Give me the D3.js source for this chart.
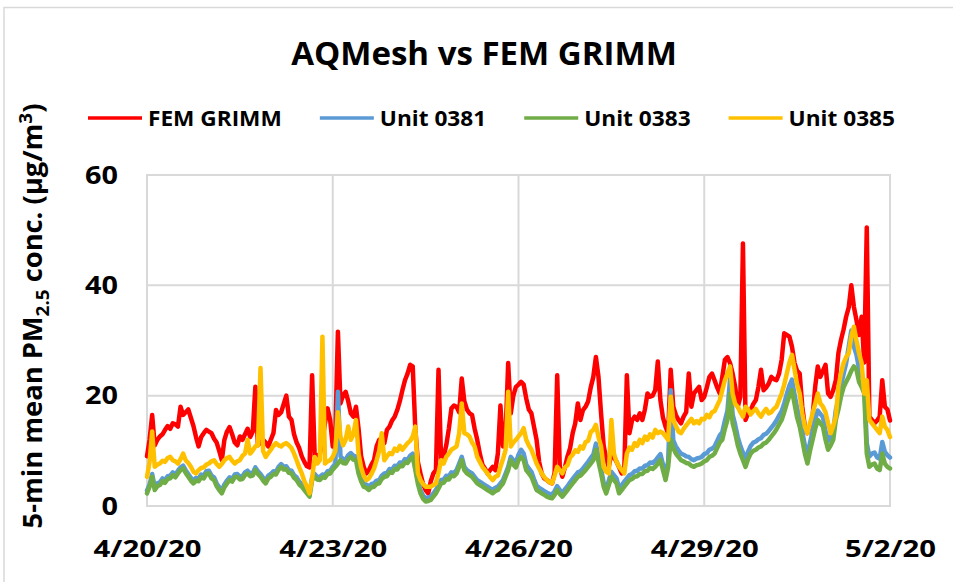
<!DOCTYPE html>
<html><head><meta charset="utf-8">
<script src="https://cdn.jsdelivr.net/npm/d3@7"></script>
<style>
body{margin:0;background:#fff}
svg{display:block}
text{font-family:"Open Sans","Lato",sans-serif;font-weight:700;fill:#000}
</style>
</head><body>
<svg id="c" width="953" height="582"></svg>
<script>
const chartTitle = "AQMesh vs FEM GRIMM";
const seriesNames = ["FEM GRIMM", "Unit 0381", "Unit 0383", "Unit 0385"];
const seriesColors = ["#ff0000", "#5b9bd5", "#70ad47", "#ffc000"];
const startDay = "2020-04-20";
const stepHours = 1;
const yTicks = [0, 20, 40, 60];
const xTickDates = ["2020-04-20", "2020-04-23", "2020-04-26", "2020-04-29", "2020-05-02"];
const xTickLabels = ["4/20/20", "4/23/20", "4/26/20", "4/29/20", "5/2/20"];

const femGrimm = [
9,12,16.5,11,12,12.6,13,13.8,14.5,14,
15,14.8,14.4,18,16.5,17,17.5,16,14.5,12.5,
10.8,12.5,13.2,13.8,13.5,13.2,12.2,11.5,10,8.3,
12,13.5,14.3,13,11.5,11,12.6,12,13,14,
12.5,13.5,21.6,11,11.5,12,11.5,10.8,12,13.2,
17.4,16.5,17,18.5,20,16.2,15.6,13,11.5,10.5,
9,8,7.2,7,23.7,9,9.2,9.4,12,15,
17.7,15.6,10.8,13,31.6,18.6,20.1,20.7,19,16.8,
16.2,18,14,9,7.1,5.9,6.5,7.5,8.3,10.8,
12,11.6,11.4,13.8,14.4,15.5,16.2,17.4,19,21,
22.8,24,25.6,25.3,14,8,5.9,4,2.9,2.3,
4.5,5.9,6.5,24.7,8.3,9,11,14,17.7,18.2,
18,17,23.1,19,17.5,16.8,16.5,14,12,9.5,
7.5,6.8,5.9,6.5,7.1,6.5,9.5,18.2,10.8,13,
25.9,16.8,20,21.6,22,22.5,22,19.5,17.5,16.8,
14.4,12,8,5.9,5,4.7,4.3,4.1,6,23.7,
7.1,5.3,7,9,10.5,13.2,15,18.6,15.6,17.4,
18,19,21.5,23.4,27,23.4,16.8,11,8.5,7.1,
9.5,8.9,8,7,5.9,6.5,23.7,13.2,15.5,16.2,
15.6,16.8,15.6,17.5,20.4,19.8,20,21,26.2,19.2,
16,14.4,13.2,24.7,18,16.5,15.6,15,16.2,17,
24,18,20.4,21,21.6,19.2,19.8,21.5,23.4,24,
22.8,21.5,20.4,23.4,26.5,27,25.9,24,21.6,18,
19.8,47.6,15.6,16.8,17.4,18.5,19.2,21.6,24.7,21,
21.5,22.2,23.4,23,22.8,24,26.5,31.3,31,30.7,
28.9,25.9,24.5,24,18,14.4,13.2,14.5,16.2,21.6,
25.3,23.4,24.5,25.6,20.4,19.8,21,22.8,27.7,30.1,
32,34.3,36,40,36.1,33.7,31,34.3,26,50.5,
16.2,15.6,15,15.5,16.2,22.8,18,17.5,15.5
];
const unit0381 = [
2.8,3.9,5.8,3.4,4.1,4.3,5,4.7,5.4,5.5,
6.1,5.7,6.4,7,7.3,6.5,5.8,5.1,4.6,5.1,
5,5.7,5.5,6.3,6.4,5.5,5.2,4.1,3.4,2.8,
3.9,4.6,5.2,4.9,5.7,5.8,5.3,5.4,6.1,6.4,
5.9,6,7,6.3,5.8,5.1,4.6,5.5,5.8,6.3,
6.2,7.1,7.6,7.1,7.2,6.5,6.4,5.6,5.2,4.4,
4,3.4,2.8,2.2,5.2,5.8,5.3,5.2,5.7,5.6,
6.3,6.4,7.1,7.6,20.7,9,8.5,8.4,9.2,9.6,
9.1,9,6.6,5.1,4.1,3.9,3.5,4,4.1,4.6,
4.7,5.5,5.9,6,6.7,6.6,7.3,7.2,7.9,7.8,
8.5,8.4,9.1,9.5,7.1,4.6,2.9,1.9,1.4,1.5,
1.7,2.3,2.9,3.8,4.7,4.8,5.5,5.4,6.1,6,
6.5,7.7,8.9,7.1,6.5,6.2,5.9,5.3,4.7,4.4,
4.1,3.8,3.5,3.2,2.9,3.3,3.5,4.1,4.7,5.9,
7.1,8.9,8.3,7.9,9.3,10.2,9.5,7.5,6.8,6.2,
4.9,3.7,3.3,3,2.7,2.4,2.2,2.1,2.7,3.6,
2.9,2.4,3,3.6,4.3,4.9,5.5,6.1,6.3,6.8,
7.4,8,8.7,9.3,11.3,8.9,6.7,4.3,3.1,4.6,
6.2,5.6,5,3.2,3.8,4.4,5,5.6,5.8,6.3,
6.4,6.8,6.8,7.3,7.4,7.9,7.8,8.2,8.8,9.4,
7.5,5.7,8.1,21,11.9,10.8,10.1,9.5,9.3,9,
8.9,8.5,8.3,8.6,8.7,8.9,9.4,9.6,10.2,10.4,
10.8,11.8,12.8,13.4,15.5,17.3,23,16.6,14.7,12.5,
10.9,9.7,8.5,9.9,10.9,11.5,11.7,12.1,12.3,12.9,
13.1,13.6,14.2,14.8,15.5,16.4,17.2,18.6,20.3,21.8,
22.9,20.2,17.7,16,13.5,11,9.2,11.5,13.6,15.7,
17.3,16.7,16.1,13.6,11.8,12.6,13.7,17.4,19.4,21.9,
23.9,25.9,28.9,31.8,28.9,27.4,24.9,23.7,22.4,11.4,
9,9.5,9.7,8.8,8.6,11.6,9.8,9.2,8.8
];
const unit0383 = [
2.3,3.5,5.3,2.9,3.6,3.8,4.5,4.2,4.9,5,
5.6,5.2,5.9,6.5,6.8,6,5.3,4.6,4.1,4.6,
4.5,5.2,5,5.8,5.9,5,4.7,3.6,2.9,2.3,
3.4,4.1,4.7,4.4,5.2,5.3,4.8,4.9,5.6,5.9,
5.4,5.5,6.5,5.8,5.3,4.6,4.1,5,5.3,5.8,
5.7,6.6,7.1,6.6,6.7,6,5.9,5.1,4.7,3.9,
3.5,2.9,2.3,1.7,4.7,5.3,4.8,4.7,5.2,5.1,
5.8,5.9,6.6,7.1,7.7,8.3,7.8,7.7,8.5,8.9,
8.4,8.3,5.9,4.5,3.5,3.3,2.9,3.4,3.5,4,
4.1,4.9,5.3,5.4,6.1,6,6.7,6.6,7.3,7.2,
7.9,7.8,8.5,8.9,6.5,4,2.3,1.3,0.8,0.9,
1.1,1.7,2.3,3.2,4.1,4.2,4.9,4.8,5.5,5.4,
5.9,7.1,8.3,6.5,5.9,5.6,5.3,4.7,4.1,3.8,
3.5,3.2,2.9,2.6,2.3,2.7,2.9,3.5,4.1,5.3,
6.5,8.3,7.5,7,8.3,8.9,8.3,6.5,5.9,5.3,
4.1,2.9,2.6,2.3,2,1.7,1.5,1.4,2,2.9,
2.2,1.7,2.3,2.9,3.5,4.1,4.7,5.3,5.5,6,
6.5,7.1,7.7,8.3,10.2,8,5.9,3.5,2.3,3.8,
5.3,4.7,4.1,2.3,2.9,3.5,4.1,4.7,4.9,5.3,
5.4,5.8,5.8,6.3,6.4,6.9,6.7,7.1,7.7,8.3,
6.5,4.7,7,12,10.5,9.5,8.9,8.3,8.1,7.8,
7.7,7.3,7.1,7.4,7.5,7.7,8.1,8.3,8.9,9.1,
9.5,10.5,11.5,12,14,15.6,20.4,15,13.2,11,
9.5,8.3,7.1,8.5,9.5,10,10.2,10.6,10.8,11.3,
11.5,12,12.6,13.2,13.9,14.8,15.6,17,18.6,20,
21,18.5,16,14.4,12,9.5,7.7,10,12,14,
15.6,15,14.4,12,10.2,11,12,15.6,17.5,19.8,
21.5,22.5,23.4,24.5,25.3,24.7,22.5,21.6,20.4,9.5,
7.1,7.5,7.7,6.8,6.5,9.5,7.7,7.1,6.8
];
const unit0385 = [
5.3,8,13.5,7.1,7.5,7.7,8.2,8,8.7,8.9,
8.3,8.1,7.7,8.5,9.5,8.3,7.8,7.1,6.2,5.9,
6.5,6.9,7,7.5,7.7,8.1,8.3,7.6,7.1,7.6,
8.3,8.7,8.9,8.2,7.7,8.1,8.3,9.1,9.5,12,
9.5,10.1,10.8,11,25,10,8.9,9.6,10.2,10.9,
11.4,11,10.8,11.2,11.4,11,10.5,9.5,8.3,7,
5.9,4.5,3.5,2.3,5,8.9,7.7,8.3,30.7,7.7,
8.1,8.3,8.9,10,17,12.6,11,12,14.4,12,
13,15.6,9.5,7,5.5,4.7,5,5.8,6.8,8.3,
10,13.2,8.3,9,9.6,9.4,10.4,10,10.9,10.2,
10.8,11.4,11.8,12.6,14.4,6,4.7,4,3.5,3.5,
3.5,3.8,4.1,6,8.3,7.7,8.9,9.5,10.2,10.5,
10.8,13.2,18.6,13.2,13,12.6,11.5,10.8,8.9,8,
7.1,6.5,5.9,5.2,4.7,5.3,5.5,7.1,8.5,10.2,
20.7,10.8,11.5,12,12.6,13.2,14.1,12,11,10.2,
9,7.7,6.8,5.9,5.2,4.7,4.3,4.1,5.5,7.1,
6.5,5.9,7,7.4,8.8,9.3,10.1,9.8,10.8,10.4,
11.6,11.8,13.4,13.8,14.7,12.5,10.8,7.1,6.2,5.9,
15.6,9.5,8,7.1,6.5,5.9,9.5,10.6,10.2,11.4,
10.9,12,11.4,12.6,12,13,12.4,13.8,13.2,13.5,
13.2,12.6,12,19.8,15.6,14.5,13.5,13.2,14,14.6,
15.2,15.8,15,15.4,15,15.8,15.7,16.5,16.1,17,
17.2,18.2,19.2,21,22.8,24,25.3,20.4,18.5,18,
17,16.2,18,17.5,16.6,17.2,17.6,16.8,16.2,17,
17.6,16.8,17,17.6,18,19.2,20.4,22,24,26,
27.4,24.7,22,20.4,16.8,14.4,13.2,15,16.8,18.5,
20.4,18.6,18,17,15,13.2,14.5,16.2,21.6,24,
25.9,27,27.7,30.7,32.5,30,27.7,25.9,20.4,22.8,
15.6,15,14.4,13.8,13.2,16.2,14.4,13.8,12.5
];

const seriesValues = [femGrimm, unit0381, unit0383, unit0385];

function draw() {
  const svg = d3.select("#c");
  const parseDay = d3.timeParse("%Y-%m-%d");
  const t0 = parseDay(startDay);
  const tickDates = xTickDates.map(parseDay);

  const x = d3.scaleTime().domain([tickDates[0], tickDates[tickDates.length - 1]]).range([147, 890]);
  const y = d3.scaleLinear().domain([0, 60]).range([506, 175]);

  // outer chart border
  svg.append("path").attr("d", "M4,582V7.5H953")
    .attr("fill", "none").attr("stroke", "#d9d9d9").attr("stroke-width", 1.5);

  // gridlines
  const grid = svg.append("g").attr("stroke", "#d9d9d9").attr("stroke-width", 2);
  grid.selectAll("line.h").data(yTicks).join("line")
    .attr("x1", x.range()[0] - 1).attr("x2", x.range()[1] + 1)
    .attr("y1", d => y(d)).attr("y2", d => y(d));
  grid.selectAll("line.v").data(tickDates).join("line")
    .attr("x1", d => x(d)).attr("x2", d => x(d))
    .attr("y1", y.range()[1] - 1).attr("y2", y.range()[0] + 1);

  // series
  const line = d3.line()
    .x((d, i) => x(d3.timeHour.offset(t0, i * stepHours)))
    .y(d => y(d))
    .curve(d3.curveLinear);
  svg.append("g").selectAll("path").data(seriesValues).join("path")
    .attr("d", d => line(d))
    .attr("fill", "none")
    .attr("stroke", (d, i) => seriesColors[i])
    .attr("stroke-width", 4.5)
    .attr("stroke-linejoin", "round")
    .attr("stroke-linecap", "round");

  // Y axis labels
  const yAxis = svg.append("g").attr("transform", "translate(118,0)")
    .call(d3.axisLeft(y).tickValues(yTicks).tickSize(0).tickPadding(0));
  yAxis.select(".domain").remove();
  const yt = yAxis.selectAll("text")
    .attr("font-family", null).style("font-size", "25px").style("font-weight", "700").attr("fill", "#000");
  const w60 = yAxis.selectAll("text").filter(d => d === 60).node().getComputedTextLength();
  yt.attr("transform", `scale(${33 / w60},1)`);

  // X axis labels
  const xAxis = svg.append("g").attr("transform", "translate(0,506)")
    .call(d3.axisBottom(x).tickValues(tickDates).tickFormat((d, i) => xTickLabels[i]).tickSize(0).tickPadding(34));
  xAxis.select(".domain").remove();
  const xt = xAxis.selectAll("text")
    .attr("font-family", null).style("font-size", "24px").style("font-weight", "700").attr("fill", "#000");
  const wFirst = xt.filter((d, i) => i === 0).node().getComputedTextLength();
  xt.attr("transform", `scale(${108 / wFirst},1)`);

  // Title
  const tt = svg.append("text").attr("x", 0).attr("y", 0)
    .attr("text-anchor", "middle").style("font-size", "32px").text(chartTitle);
  const tw = tt.node().getComputedTextLength();
  tt.attr("transform", `translate(484,65) scale(${386 / tw},1)`);

  // Y axis title
  const yTitle = svg.append("text").attr("text-anchor", "middle").style("font-size", "26px");
  yTitle.append("tspan").text("5-min mean PM");
  yTitle.append("tspan").text("2.5").style("font-size", "18px").attr("dy", 7);
  yTitle.append("tspan").text(" conc. (µg/m").attr("dy", -7);
  yTitle.append("tspan").text("3").style("font-size", "18px").attr("dy", -10);
  yTitle.append("tspan").text(")").attr("dy", 10);
  const yw = yTitle.node().getComputedTextLength();
  yTitle.attr("transform", `translate(42,316) rotate(-90) scale(${425 / yw},1)`);

  // Legend
  const leg = svg.append("g");
  const items = leg.selectAll("g").data(seriesNames).join("g");
  items.append("text").style("font-size", "22px").attr("y", 126).text(d => d);
  let total = 0;
  items.select("text").each(function () { total += this.getComputedTextLength(); });
  const ls = 453 / total;
  let cx = 88;
  items.each(function (d, i) {
    const g = d3.select(this);
    const tw = g.select("text").node().getComputedTextLength() * ls;
    g.append("line").attr("x1", cx).attr("x2", cx + 54).attr("y1", 118).attr("y2", 118)
      .attr("stroke", seriesColors[i]).attr("stroke-width", 3.5);
    g.select("text").attr("transform", `translate(${cx + 60},0) scale(${ls},1)`);
    cx = cx + 60 + tw + 38;
  });
}

if (document.fonts && document.fonts.ready) {
  document.fonts.ready.then(draw);
} else { draw(); }
</script>
</body></html>
